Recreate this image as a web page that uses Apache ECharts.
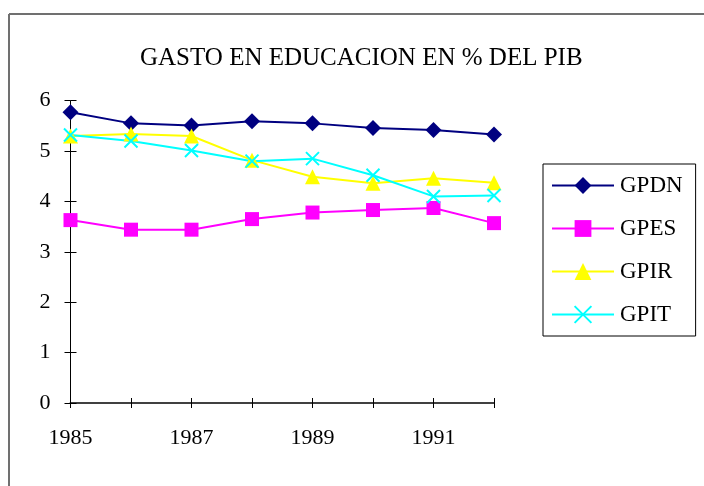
<!DOCTYPE html>
<html>
<head>
<meta charset="utf-8">
<script src="https://cdn.jsdelivr.net/npm/echarts@6/dist/echarts.min.js"></script>
<style>
  html, body { margin: 0; padding: 0; background: #fff; }
  #chart { width: 704px; height: 486px; }
</style>
</head>
<body>
<div id="chart"></div>
<script>
const years = ["1985", "1986", "1987", "1988", "1989", "1990", "1991", "1992"];
const gpdn = [5.77, 5.55, 5.51, 5.59, 5.55, 5.46, 5.42, 5.33];
const gpes = [3.63, 3.44, 3.44, 3.65, 3.78, 3.83, 3.87, 3.57];
const gpir = [5.30, 5.34, 5.30, 4.82, 4.49, 4.36, 4.46, 4.37];
const gpit = [5.32, 5.20, 5.01, 4.80, 4.85, 4.52, 4.10, 4.12];
const yTicks = [0, 1, 2, 3, 4, 5, 6];

const font = "Liberation Serif";
const crossPath = "path://M0,0L10,10M10,0L0,10";

function makeSeries(name, data, color, symbol, size) {
  return {
    name: name,
    type: "line",
    data: data,
    symbol: symbol,
    symbolSize: size,
    showAllSymbol: true,
    animation: false,
    lineStyle: { color: color, width: 2 },
    itemStyle: { color: color, borderColor: color, borderWidth: symbol === crossPath ? 2 : 0 },
    emphasis: { disabled: true },
  };
}

const chart = echarts.init(document.getElementById("chart"));
chart.setOption({
  backgroundColor: "#fff",
  textStyle: { fontFamily: font, color: "#000" },
  title: {
    text: "GASTO EN EDUCACION EN % DEL PIB",
    left: 140,
    top: 46,
    padding: 0,
    textStyle: { fontFamily: font, fontSize: 25, fontWeight: "normal", color: "#000" },
  },
  graphic: [
    { type: "line", shape: { x1: 9, y1: 14, x2: 704, y2: 14 }, style: { stroke: "#707070", lineWidth: 2 } },
    { type: "line", shape: { x1: 9, y1: 14, x2: 9, y2: 486 }, style: { stroke: "#707070", lineWidth: 2 } },
  ],
  legend: {
    orient: "vertical",
    left: 543,
    top: 164,
    width: 153,
    padding: [10, 13, 10, 8],
    itemGap: 20,
    itemWidth: 62,
    itemHeight: 21,
    borderColor: "#000",
    borderWidth: 1,
    selectedMode: false,
    textStyle: { fontFamily: font, fontSize: 23, color: "#000", padding: [0, 0, 0, 1] },
    data: ["GPDN", "GPES", "GPIR", "GPIT"],
  },
  grid: { left: 70.5, right: 210, top: 100.7, bottom: 83, containLabel: false },
  xAxis: [
    {
      type: "category",
      data: years,
      boundaryGap: false,
      axisLine: { lineStyle: { color: "#404040", width: 2 } },
      axisTick: { show: true, interval: 0, length: 5, lineStyle: { color: "#000", width: 1 } },
      axisLabel: { interval: 1, margin: 24, fontFamily: font, fontSize: 22, color: "#000" },
      splitLine: { show: false },
    },
    {
      type: "category",
      data: years,
      position: "bottom",
      boundaryGap: false,
      axisLine: { show: false },
      axisTick: { show: true, inside: true, interval: 0, length: 5, lineStyle: { color: "#000", width: 1 } },
      axisLabel: { show: false },
      splitLine: { show: false },
    },
  ],
  yAxis: [
    {
      type: "value",
      min: yTicks[0],
      max: yTicks[yTicks.length - 1],
      interval: 1,
      axisLine: { show: true, lineStyle: { color: "#000", width: 1 } },
      axisTick: { show: true, length: 6, lineStyle: { color: "#000", width: 1 } },
      axisLabel: { margin: 20, fontFamily: font, fontSize: 22, color: "#000" },
      splitLine: { show: false },
    },
    {
      type: "value",
      position: "left",
      min: yTicks[0],
      max: yTicks[yTicks.length - 1],
      interval: 1,
      axisLine: { show: false },
      axisTick: { show: true, inside: true, length: 6, lineStyle: { color: "#000", width: 1 } },
      axisLabel: { show: false },
      splitLine: { show: false },
    },
  ],
  series: [
    makeSeries("GPDN", gpdn, "#000080", "diamond", 16),
    makeSeries("GPES", gpes, "#FF00FF", "rect", 14),
    makeSeries("GPIR", gpir, "#FFFF00", "triangle", 15),
    makeSeries("GPIT", gpit, "#00FFFF", crossPath, 13),
  ],
});
</script>
</body>
</html>
